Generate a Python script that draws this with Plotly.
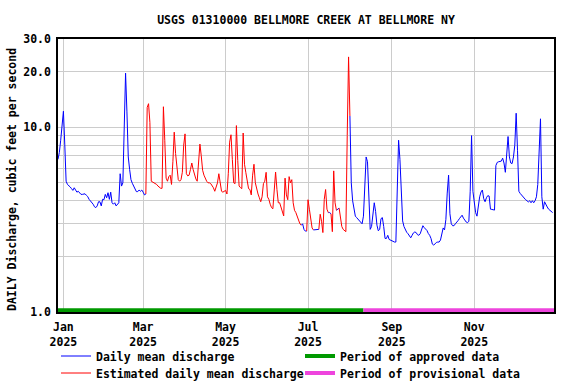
import math
import pandas as pd
import plotly.graph_objects as go

# ---------------- data (daily mean discharge, cfs) ----------------
start_date = "2024-12-28"
dec_2024 = [6.7, 7.3, 8.5, 10.6]
jan_2025 = [12.2, 8.1, 5.1, 4.9, 4.85, 4.75, 4.65, 4.55, 4.7, 4.6, 4.45, 4.5, 4.42, 4.33, 4.33, 4.33,
            4.36, 4.28, 4.21, 4.07, 4.0, 3.9, 3.83, 3.71, 3.67, 3.75, 3.95, 3.95, 3.75, 4.07, 4.05]
feb_2025 = [4.33, 4.15, 4.42, 4.07, 4.45, 3.9, 3.83, 3.9, 3.75, 3.83, 3.9, 5.6, 4.8, 5.0, 10.1, 19.6,
            12.1, 6.9, 5.9, 5.2, 4.97, 4.77, 4.57, 4.48, 4.48, 4.57, 4.5, 4.57]
mar_2025 = [4.45, 4.3, 4.35, 12.8, 13.4, 10.6, 5.1, 5.05, 5.0, 4.95, 4.9, 4.8, 4.7, 4.67, 4.67, 12.9,
            8.5, 5.3, 5.1, 5.4, 5.5, 4.9, 6.5, 9.4, 7.2, 5.8, 5.2, 5.1, 5.2, 5.7, 8.0]
apr_2025 = [9.2, 5.6, 5.45, 5.5, 5.9, 6.4, 5.9, 5.45, 5.25, 5.1, 6.5, 8.1, 7.0, 5.85, 5.5, 5.25,
            5.1, 5.0, 5.0, 4.95, 4.85, 4.7, 4.5, 4.75, 5.0, 5.6, 4.9, 4.5, 4.45, 4.5]
may_2025 = [4.55, 4.35, 5.6, 8.3, 9.1, 6.7, 5.0, 4.95, 10.2, 6.6, 4.81, 4.71, 4.65, 9.3, 6.3, 5.67,
            5.11, 4.65, 4.6, 4.3, 5.5, 6.3, 5.0, 4.55, 4.35, 4.15, 3.95, 4.2, 4.95, 5.1, 5.7]
jun_2025 = [4.2, 4.07, 3.83, 3.67, 3.62, 4.6, 5.72, 4.6, 3.9, 3.9, 3.7, 3.45, 3.31, 5.3, 4.3, 4.05,
            5.4, 5.0, 5.2, 3.9, 3.55, 3.45, 3.3, 3.15, 3.0, 2.95, 3.0, 2.8, 2.74, 2.74]
jul_2025 = [4.05, 3.6, 3.1, 2.85, 2.78, 2.78, 2.78, 2.78, 2.8, 3.38, 3.1, 2.69, 4.07, 4.6, 3.6, 3.45,
            3.45, 3.4, 2.72, 5.8, 3.9, 3.55, 3.62, 3.65, 3.2, 2.9, 2.8, 2.74, 2.72, 9.0, 24.0]
aug_2025 = [11.5, 5.0, 4.0, 3.55, 3.3, 3.24, 3.17, 3.1, 3.05, 3.0, 3.3, 4.5, 6.9, 6.5, 4.2, 2.8,
            2.9, 3.3, 3.9, 3.5, 2.95, 2.75, 2.8, 3.2, 3.24, 2.9, 2.5, 2.5, 2.6, 2.47, 2.45]
sep_2025 = [2.42, 2.39, 2.39, 2.39, 4.0, 8.5, 6.7, 4.0, 3.11, 2.9, 2.78, 2.7, 2.65, 2.58, 2.52, 2.6,
            2.68, 2.71, 2.69, 2.62, 2.6, 2.65, 2.78, 2.93, 2.86, 2.8, 2.76, 2.66, 2.6, 2.5]
oct_2025 = [2.33, 2.3, 2.35, 2.38, 2.39, 2.39, 2.45, 2.65, 2.85, 2.78, 3.17, 4.4, 5.5, 3.4, 3.0, 2.93,
            2.93, 3.0, 3.05, 3.12, 3.2, 3.28, 3.34, 3.22, 3.12, 3.07, 3.04, 3.1, 4.5, 9.0, 4.5]
nov_2025 = [3.95, 3.45, 3.3, 3.75, 4.2, 4.46, 4.57, 4.1, 3.95, 4.15, 4.26, 4.24, 3.6, 3.59, 3.59, 3.56,
            6.2, 6.45, 6.5, 6.5, 6.55, 6.8, 6.4, 5.7, 6.8, 8.9, 6.9, 6.4, 6.35, 6.9]
dec_2025 = [8.0, 11.9, 7.5, 4.5, 4.38, 4.28, 4.18, 4.1, 4.05, 4.0, 3.94, 4.0, 3.9, 4.0, 3.9, 4.0,
            4.2, 4.9, 7.5, 11.1, 4.2, 3.6, 3.95, 3.8, 3.7, 3.6, 3.56, 3.52, 3.45]

estimated_periods = [("2025-03-04", "2025-06-25"), ("2025-07-01", "2025-07-04"),
                     ("2025-07-10", "2025-07-15"), ("2025-07-19", "2025-07-21"),
                     ("2025-07-25", "2025-07-31")]
approved_period = ["2024-12-28", "2025-08-11"]
provisional_period = ["2025-08-11", "2025-12-30"]
period_bar_level = [1.022, 1.022]

x_range = ["2024-12-28", "2025-12-30"]
x_tick_dates = ["2025-01-01", "2025-03-01", "2025-05-01", "2025-07-01", "2025-09-01", "2025-11-01"]
x_tick_labels = ["Jan<br>2025", "Mar<br>2025", "May<br>2025", "Jul<br>2025", "Sep<br>2025", "Nov<br>2025"]
y_tick_vals = [1, 2, 3, 4, 5, 6, 7, 8, 9, 10, 20, 30]
y_tick_labels = ["1.0", "", "", "", "", "", "", "", "", "10.0", "20.0", "30.0"]

# ---------------- build series ----------------
discharge = (dec_2024 + jan_2025 + feb_2025 + mar_2025 + apr_2025 + may_2025 + jun_2025
             + jul_2025 + aug_2025 + sep_2025 + oct_2025 + nov_2025 + dec_2025)
dates = pd.date_range(start_date, periods=len(discharge), freq="D")

est = [any(pd.Timestamp(a) <= d <= pd.Timestamp(b) for a, b in estimated_periods) for d in dates]
n = len(discharge)
blue_y = [v if not est[i] else None for i, v in enumerate(discharge)]
red_y = [v if (est[i] or (i > 0 and est[i - 1]) or (i < n - 1 and est[i + 1])) else None
         for i, v in enumerate(discharge)]

FONT = "DejaVu Sans Mono"
W, H = 576, 384
L, R, T, B = 58, 22, 39, 72
PW, PH = W - L - R, H - T - B


def px_x(px):
    return (px - L) / PW


def px_y(py):
    return (H - B - py) / PH


fig = go.Figure()
fig.add_trace(go.Scatter(x=dates, y=blue_y, mode="lines", line=dict(color="#0000ff", width=1),
                         name="Daily mean discharge", legend="legend", connectgaps=False))
fig.add_trace(go.Scatter(x=dates, y=red_y, mode="lines", line=dict(color="#ff0000", width=1),
                         name="Estimated daily mean discharge", legend="legend2", connectgaps=False))
fig.add_trace(go.Scatter(x=approved_period, y=period_bar_level, mode="lines",
                         line=dict(color="#009900", width=4),
                         name="Period of approved data", legend="legend3"))
fig.add_trace(go.Scatter(x=provisional_period, y=period_bar_level, mode="lines",
                         line=dict(color="#ee44dd", width=4),
                         name="Period of provisional data", legend="legend4"))

legend_common = dict(font=dict(family=FONT, size=11.5, color="black", weight="bold"),
                     bgcolor="rgba(0,0,0,0)", borderwidth=0, xanchor="left", yanchor="middle",
                     orientation="v")

fig.update_layout(
    width=W, height=H,
    margin=dict(l=L, r=R, t=T, b=B, autoexpand=False),
    paper_bgcolor="white", plot_bgcolor="white",
    showlegend=True,
    font=dict(family=FONT, size=11.5, color="black", weight="bold"),
    title=dict(text="USGS 01310000 BELLMORE CREEK AT BELLMORE NY", x=0.5, xref="paper",
               y=1 - 20 / H, yref="container", xanchor="center", yanchor="middle",
               font=dict(family=FONT, size=11.5, color="black", weight="bold")),
    xaxis=dict(type="date", range=x_range, tickvals=x_tick_dates, ticktext=x_tick_labels,
               showgrid=True, gridcolor="#cccccc", gridwidth=1, ticks="",
               showline=True, mirror=True, linecolor="black", linewidth=1.5, zeroline=False,
               tickfont=dict(family=FONT, size=11.5, color="black", weight="bold"),
               ticklabelstandoff=3),
    yaxis=dict(type="log", range=[0, math.log10(30)], tickvals=y_tick_vals, ticktext=y_tick_labels,
               showgrid=True, gridcolor="#cccccc", gridwidth=1, ticks="",
               showline=True, mirror=True, linecolor="black", linewidth=1.5, zeroline=False,
               tickfont=dict(family=FONT, size=11.5, color="black", weight="bold"),
               ticklabelstandoff=3),
    legend=dict(x=px_x(56), y=px_y(356), **legend_common),
    legend2=dict(x=px_x(56), y=px_y(373), **legend_common),
    legend3=dict(x=px_x(300), y=px_y(356), **legend_common),
    legend4=dict(x=px_x(300), y=px_y(373), **legend_common),
    annotations=[dict(text="DAILY Discharge, cubic feet per second", textangle=-90,
                      xref="paper", yref="paper", x=px_x(11.5), y=px_y(179.5),
                      xanchor="center", yanchor="middle", showarrow=False,
                      font=dict(family=FONT, size=11.5, color="black", weight="bold"))],
)

fig.write_html("out.html", config={"displayModeBar": False},
               post_script="document.body.style.margin='0';")
